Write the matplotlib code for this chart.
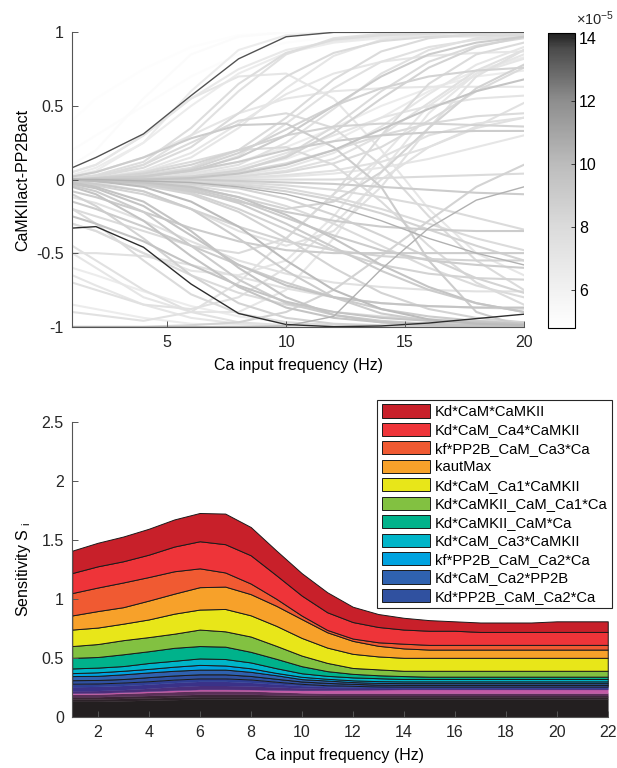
import numpy as np
import matplotlib
matplotlib.use('Agg')
import matplotlib.pyplot as plt
from matplotlib.colors import LinearSegmentedColormap, Normalize
from matplotlib.ticker import FormatStrFormatter
import matplotlib.cm as cm

plt.rcParams['font.family'] = ['Liberation Sans', 'DejaVu Sans']
plt.rcParams['font.size'] = 11.5
plt.rcParams['axes.unicode_minus'] = False
plt.rcParams['mathtext.default'] = 'regular'

# ---- top panel: CaMKIIact-PP2Bact vs frequency, shaded by a parameter value (x1e-5)
freq_top = [1, 2, 4, 6, 8, 10, 12, 14, 16, 18, 20]

rising_curves = [
    [0.40, 0.55, 0.75, 0.90, 0.98, 1, 1, 1, 1, 1, 1],
    [0.10, 0.20, 0.55, 0.85, 0.97, 1, 1, 1, 1, 1, 1],
    [0.02, 0.06, 0.25, 0.60, 0.88, 0.98, 1, 1, 1, 1, 1],
    [0.08, 0.15, 0.31, 0.57, 0.82, 0.97, 1, 1, 1, 1, 1],
    [0, 0.02, 0.10, 0.30, 0.60, 0.85, 0.96, 0.99, 1, 1, 1],
    [0, 0.01, 0.05, 0.15, 0.35, 0.62, 0.84, 0.95, 0.99, 1, 1],
    [0, 0, 0.03, 0.08, 0.20, 0.42, 0.68, 0.87, 0.96, 0.99, 1],
    [0, 0, 0.01, 0.04, 0.10, 0.25, 0.48, 0.72, 0.88, 0.96, 0.99],
    [0, 0, 0.01, 0.02, 0.06, 0.15, 0.32, 0.55, 0.76, 0.90, 0.97],
    [0, 0, 0, 0.01, 0.03, 0.08, 0.18, 0.36, 0.58, 0.78, 0.90],
    [0, 0, 0, 0.01, 0.02, 0.05, 0.11, 0.22, 0.40, 0.60, 0.76],
    [0, 0, 0, 0, 0.01, 0.03, 0.06, 0.12, 0.22, 0.36, 0.52],
    [0.02, 0.05, 0.15, 0.30, 0.45, 0.55, 0.60, 0.62, 0.63, 0.63, 0.63],
    [0, 0.01, 0.04, 0.10, 0.20, 0.30, 0.36, 0.38, 0.38, 0.37, 0.36],
    [0, 0, 0.02, 0.05, 0.12, 0.22, 0.35, 0.50, 0.62, 0.70, 0.74],
    [0.05, 0.10, 0.30, 0.55, 0.75, 0.88, 0.94, 0.97, 0.98, 0.98, 0.98],
    [0, 0.02, 0.08, 0.22, 0.45, 0.70, 0.86, 0.94, 0.97, 0.98, 0.98],
    [0, 0, 0.01, 0.03, 0.08, 0.18, 0.30, 0.42, 0.50, 0.55, 0.57],
    [0, 0, 0, 0, 0.01, 0.02, 0.04, 0.08, 0.14, 0.22, 0.30],
    [0, 0, 0.02, 0.06, 0.15, 0.30, 0.50, 0.70, 0.85, 0.93, 0.97],
    [0.01, 0.03, 0.12, 0.35, 0.65, 0.86, 0.95, 0.98, 0.99, 1, 1],
    [0, 0, 0.01, 0.03, 0.07, 0.14, 0.26, 0.42, 0.60, 0.74, 0.83],
    [0.20, 0.30, 0.50, 0.70, 0.85, 0.93, 0.97, 0.99, 1, 1, 1],
    [0, 0.01, 0.02, 0.06, 0.12, 0.20, 0.26, 0.30, 0.32, 0.33, 0.33],
    [0, 0, 0, 0.01, 0.04, 0.10, 0.20, 0.34, 0.48, 0.60, 0.68],
    [0, 0, 0.01, 0.05, 0.16, 0.38, 0.62, 0.80, 0.90, 0.95, 0.97],
    [0, 0, 0, 0.02, 0.06, 0.16, 0.36, 0.60, 0.80, 0.91, 0.96],
    [0, 0.01, 0.06, 0.18, 0.38, 0.58, 0.72, 0.80, 0.84, 0.86, 0.87],
    [0, 0, 0.02, 0.07, 0.18, 0.34, 0.50, 0.62, 0.70, 0.74, 0.76],
    [0, 0, 0, 0.01, 0.02, 0.06, 0.14, 0.30, 0.52, 0.74, 0.88],
    [0.03, 0.08, 0.25, 0.50, 0.72, 0.86, 0.93, 0.96, 0.97, 0.97, 0.97],
    [0, 0, 0.01, 0.02, 0.05, 0.11, 0.20, 0.30, 0.38, 0.43, 0.45],
]
rising_shade = [5.0, 5.2, 6.5, 13.5, 7.5, 7.0, 8.0, 7.5, 8.5, 7.0, 8.0, 7.5, 7.0,
                8.5, 6.5, 6.8, 8.0, 7.2, 7.0, 9.0, 7.8, 6.6, 5.1, 9.0, 9.5,
                7.5, 8.0, 7.0, 8.5, 7.5, 6.5, 8.0]

falling_curves = [
    [-0.02, -0.05, -0.15, -0.35, -0.60, -0.80, -0.92, -0.97, -0.99, -1, -1],
    [-0.01, -0.03, -0.08, -0.20, -0.40, -0.62, -0.80, -0.91, -0.96, -0.98, -0.99],
    [0, -0.01, -0.04, -0.10, -0.22, -0.40, -0.60, -0.77, -0.88, -0.94, -0.97],
    [0, -0.01, -0.02, -0.05, -0.12, -0.24, -0.40, -0.58, -0.73, -0.84, -0.90],
    [0, 0, -0.01, -0.03, -0.06, -0.13, -0.24, -0.38, -0.53, -0.67, -0.77],
    [0, 0, -0.01, -0.02, -0.04, -0.08, -0.14, -0.23, -0.34, -0.45, -0.55],
    [-0.05, -0.10, -0.28, -0.52, -0.73, -0.87, -0.94, -0.97, -0.98, -0.99, -0.99],
    [-0.10, -0.18, -0.40, -0.65, -0.84, -0.94, -0.98, -0.99, -1, -1, -1],
    [-0.20, -0.30, -0.55, -0.78, -0.91, -0.97, -0.99, -1, -1, -1, -1],
    [-0.45, -0.55, -0.75, -0.90, -0.97, -0.99, -1, -1, -1, -1, -1],
    [-0.65, -0.72, -0.85, -0.94, -0.98, -1, -1, -1, -1, -1, -1],
    [-0.85, -0.88, -0.94, -0.98, -0.99, -1, -1, -1, -1, -1, -1],
    [0, -0.01, -0.03, -0.08, -0.15, -0.22, -0.28, -0.32, -0.34, -0.35, -0.35],
    [-0.02, -0.04, -0.10, -0.20, -0.32, -0.42, -0.48, -0.52, -0.54, -0.55, -0.55],
    [0, 0, -0.02, -0.06, -0.14, -0.26, -0.38, -0.48, -0.55, -0.58, -0.60],
    [-0.30, -0.35, -0.50, -0.65, -0.77, -0.85, -0.90, -0.93, -0.95, -0.96, -0.97],
    [-0.50, -0.50, -0.52, -0.58, -0.66, -0.74, -0.80, -0.84, -0.86, -0.87, -0.88],
    [-0.33, -0.32, -0.46, -0.71, -0.91, -0.985, -1.0, -0.995, -0.975, -0.945, -0.915],
    [0, -0.01, -0.05, -0.15, -0.32, -0.55, -0.75, -0.88, -0.95, -0.98, -0.99],
    [-0.03, -0.06, -0.18, -0.38, -0.58, -0.72, -0.80, -0.84, -0.86, -0.87, -0.87],
    [-0.15, -0.20, -0.32, -0.45, -0.58, -0.70, -0.80, -0.88, -0.93, -0.96, -0.98],
    [-0.25, -0.30, -0.42, -0.58, -0.72, -0.83, -0.90, -0.94, -0.96, -0.97, -0.98],
    [0, 0, -0.01, -0.02, -0.05, -0.10, -0.18, -0.28, -0.40, -0.50, -0.58],
    [-0.08, -0.12, -0.22, -0.33, -0.42, -0.48, -0.50, -0.50, -0.50, -0.50, -0.50],
    [0, 0, 0, -0.01, -0.02, -0.04, -0.07, -0.12, -0.18, -0.26, -0.34],
    [0, -0.01, -0.03, -0.09, -0.20, -0.34, -0.48, -0.58, -0.64, -0.67, -0.68],
    [-0.04, -0.08, -0.22, -0.45, -0.68, -0.84, -0.92, -0.96, -0.98, -0.99, -0.99],
    [0, 0, -0.01, -0.04, -0.09, -0.18, -0.30, -0.45, -0.60, -0.72, -0.80],
    [-0.12, -0.16, -0.28, -0.42, -0.55, -0.64, -0.70, -0.73, -0.75, -0.76, -0.76],
    [0, 0, 0, -0.01, -0.03, -0.06, -0.12, -0.20, -0.30, -0.40, -0.48],
    [-0.60, -0.65, -0.76, -0.86, -0.93, -0.97, -0.99, -1, -1, -1, -1],
    [0, -0.01, -0.02, -0.07, -0.16, -0.30, -0.46, -0.62, -0.75, -0.84, -0.90],
]
falling_shade = [9.5, 9.0, 8.5, 9.5, 8.5, 8.5, 9.5, 8.5, 8.0, 7.5, 7.0, 6.5, 9.0,
                 8.5, 9.0, 8.0, 7.5, 14.0, 10.0, 9.5, 9.0, 9.5, 10.5, 9.0, 8.0,
                 8.5, 9.0, 8.0, 7.5, 8.0, 6.5, 9.0]

crossing_curves = [
    [0.02, 0.05, 0.15, 0.28, 0.37, 0.38, 0.22, -0.05, -0.55, -0.90, -1.0],
    [-1, -1, -1, -1, -1, -0.995, -0.93, -0.61, -0.33, -0.14, -0.05],
    [-1, -1, -1, -0.99, -0.97, -0.90, -0.75, -0.52, -0.28, -0.05, 0.10],
    [-0.20, -0.25, -0.35, -0.45, -0.50, -0.40, -0.10, 0.30, 0.65, 0.85, 0.93],
    [0, -0.02, -0.08, -0.20, -0.35, -0.45, -0.35, -0.05, 0.35, 0.70, 0.88],
    [-0.50, -0.60, -0.80, -0.90, -0.90, -0.75, -0.40, 0.05, 0.45, 0.72, 0.85],
    [0, 0, -0.02, -0.05, -0.12, -0.20, -0.15, 0.05, 0.35, 0.62, 0.78],
    [0.05, 0.10, 0.30, 0.55, 0.70, 0.72, 0.55, 0.20, -0.20, -0.50, -0.65],
    [0, 0.02, 0.10, 0.25, 0.40, 0.45, 0.35, 0.10, -0.25, -0.55, -0.75],
    [0, 0, 0, 0, 0, 0, 0, 0.01, 0.02, 0.03, 0.04],
    [0, 0, 0, 0, -0.01, -0.02, -0.03, -0.05, -0.07, -0.09, -0.10],
    [-0.90, -0.92, -0.96, -0.90, -0.70, -0.40, -0.10, 0.15, 0.30, 0.38, 0.42],
    [-0.30, -0.35, -0.50, -0.62, -0.65, -0.55, -0.25, 0.15, 0.50, 0.72, 0.82],
    [0, 0.01, 0.05, 0.12, 0.20, 0.22, 0.10, -0.15, -0.45, -0.70, -0.85],
    [-0.70, -0.75, -0.85, -0.88, -0.80, -0.60, -0.30, 0.0, 0.22, 0.35, 0.42],
]
crossing_shade = [9.0, 10.5, 8.5, 8.0, 7.5, 7.0, 8.5, 7.0, 8.0, 8.0, 9.0, 7.5,
                  7.0, 8.0, 7.5]

cbar_ticks = [6, 8, 10, 12, 14]

# ---- bottom panel: stacked sensitivities
freq_bot = list(range(1, 23))

param_names = ['Kd*CaM*CaMKII', 'Kd*CaM_Ca4*CaMKII', 'kf*PP2B_CaM_Ca3*Ca', 'kautMax',
               'Kd*CaM_Ca1*CaMKII', 'Kd*CaMKII_CaM_Ca1*Ca', 'Kd*CaMKII_CaM*Ca',
               'Kd*CaM_Ca3*CaMKII', 'kf*PP2B_CaM_Ca2*Ca', 'Kd*CaM_Ca2*PP2B',
               'Kd*PP2B_CaM_Ca2*Ca']
param_colors = ['#c8202a', '#ee3439', '#f05a32', '#f7a12a', '#e8e619', '#82c141',
                '#00b28b', '#00b5c9', '#00a3e0', '#2f62b0', '#3051a0']

s_CaM_CaMKII = [0.19, 0.20, 0.21, 0.22, 0.23, 0.24, 0.26, 0.24, 0.21, 0.19, 0.17,
                0.13, 0.11, 0.10, 0.09, 0.08, 0.08, 0.08, 0.08, 0.09, 0.09, 0.09]
s_CaM_Ca4 = [0.17, 0.18, 0.18, 0.19, 0.21, 0.23, 0.24, 0.24, 0.20, 0.17, 0.15,
             0.14, 0.13, 0.12, 0.12, 0.12, 0.11, 0.11, 0.11, 0.11, 0.11, 0.11]
s_PP2B_Ca3 = [0.19, 0.20, 0.21, 0.20, 0.19, 0.16, 0.12, 0.09, 0.06, 0.03, 0.02,
              0.02, 0.03, 0.04, 0.04, 0.04, 0.04, 0.04, 0.04, 0.04, 0.04, 0.04]
s_kautMax = [0.12, 0.14, 0.14, 0.16, 0.17, 0.19, 0.19, 0.18, 0.17, 0.16, 0.13,
             0.11, 0.09, 0.08, 0.07, 0.07, 0.07, 0.07, 0.07, 0.07, 0.07, 0.07]
s_CaM_Ca1 = [0.14, 0.14, 0.14, 0.15, 0.17, 0.17, 0.19, 0.18, 0.17, 0.15, 0.13,
             0.12, 0.11, 0.11, 0.11, 0.11, 0.11, 0.11, 0.11, 0.11, 0.11, 0.11]
s_CaMKII_Ca1 = [0.10, 0.11, 0.12, 0.12, 0.12, 0.14, 0.13, 0.13, 0.11, 0.09, 0.07,
                0.05, 0.05, 0.045, 0.05, 0.05, 0.05, 0.05, 0.05, 0.05, 0.05, 0.05]
s_CaMKII_CaM = [0.09, 0.09, 0.10, 0.10, 0.11, 0.105, 0.105, 0.09, 0.08, 0.06, 0.04,
                0.03, 0.025, 0.025, 0.02, 0.02, 0.02, 0.02, 0.02, 0.02, 0.02, 0.02]
s_CaM_Ca3 = [0.04, 0.04, 0.04, 0.05, 0.05, 0.055, 0.055, 0.05, 0.04, 0.03, 0.025,
             0.025, 0.025, 0.02, 0.02, 0.02, 0.02, 0.02, 0.02, 0.02, 0.02, 0.02]
s_PP2B_Ca2 = [0.025, 0.03, 0.03, 0.03, 0.035, 0.04, 0.035, 0.03, 0.02, 0.02, 0.015,
              0.015, 0.015, 0.015, 0.015, 0.015, 0.015, 0.015, 0.015, 0.015, 0.015, 0.015]
s_CaM_Ca2_PP2B = [0.035, 0.035, 0.04, 0.04, 0.04, 0.04, 0.04, 0.035, 0.03, 0.02, 0.02,
                  0.015, 0.015, 0.015, 0.015, 0.015, 0.015, 0.015, 0.015, 0.015, 0.015, 0.015]
s_PP2B_CaM_Ca2 = [0.03, 0.03, 0.03, 0.035, 0.035, 0.035, 0.035, 0.03, 0.025, 0.02, 0.02,
                  0.017, 0.015, 0.015, 0.015, 0.015, 0.015, 0.015, 0.015, 0.015, 0.015, 0.015]

# remaining (unlabelled) parameters, from the bottom up
rest_colors = ['#231f20', '#2c2228', '#3a2535', '#5a2f58', '#c25ba6', '#4a2e7a',
               '#3a3288', '#2f3f95']
rest_base = [0.13, 0.13, 0.135, 0.14, 0.145, 0.15, 0.15, 0.15, 0.15, 0.15, 0.15,
             0.15, 0.15, 0.15, 0.15, 0.15, 0.15, 0.15, 0.15, 0.15, 0.15, 0.15]
rest_dark1 = [0.02, 0.02, 0.02, 0.02, 0.02, 0.02, 0.02, 0.02, 0.018, 0.016, 0.015,
              0.015, 0.015, 0.015, 0.015, 0.015, 0.015, 0.015, 0.015, 0.015, 0.015, 0.015]
rest_dark2 = [0.02, 0.02, 0.02, 0.02, 0.02, 0.02, 0.02, 0.02, 0.018, 0.016, 0.015,
              0.015, 0.015, 0.015, 0.015, 0.015, 0.015, 0.015, 0.015, 0.015, 0.015, 0.015]
rest_dark3 = [0.02, 0.022, 0.024, 0.026, 0.028, 0.03, 0.03, 0.028, 0.025, 0.022, 0.02,
              0.02, 0.02, 0.02, 0.02, 0.02, 0.02, 0.02, 0.02, 0.02, 0.02, 0.02]
rest_pink = [0.01, 0.01, 0.01, 0.011, 0.012, 0.012, 0.012, 0.013, 0.016, 0.02, 0.025,
             0.028, 0.03, 0.032, 0.032, 0.032, 0.032, 0.032, 0.032, 0.032, 0.032, 0.032]
rest_purple = [0.02, 0.02, 0.021, 0.024, 0.03, 0.033, 0.033, 0.03, 0.025, 0.02, 0.015,
               0.012, 0.01, 0.008, 0.008, 0.008, 0.008, 0.008, 0.008, 0.008, 0.008, 0.008]
rest_indigo2 = [0.035, 0.035, 0.035, 0.035, 0.035, 0.035, 0.035, 0.03, 0.025, 0.02, 0.015,
                0.01, 0.007, 0.005, 0.005, 0.005, 0.005, 0.005, 0.005, 0.005, 0.005, 0.005]
rest_indigo1 = [0.025, 0.025, 0.025, 0.025, 0.025, 0.025, 0.025, 0.025, 0.02, 0.015, 0.012,
                0.012, 0.01, 0.01, 0.01, 0.01, 0.01, 0.01, 0.01, 0.01, 0.01, 0.01]

# ---------------------------------------------------------------------------
fig = plt.figure(figsize=(6.17, 7.68), dpi=100)

gray_map = LinearSegmentedColormap.from_list(
    'grey_r', [(0.0, '#ffffff'), (0.35, '#dadada'), (0.55, '#bdbdbd'),
               (0.77, '#8e8e8e'), (0.95, '#4a4a4a'), (1.0, '#202020')])
norm = Normalize(4.8e-5, 14.16e-5)

ax1 = fig.add_axes([0.117, 0.5746, 0.732, 0.3833])
curves = rising_curves + falling_curves + crossing_curves
shades = rising_shade + falling_shade + crossing_shade
for k in np.argsort(shades, kind='stable'):
    dark = shades[k] > 10
    ax1.plot(freq_top, curves[k], color=gray_map(norm(shades[k] * 1e-5)),
             lw=1.0 if dark else 1.5, solid_joinstyle='round')
ax1.set_xlim(1, 20)
ax1.set_ylim(-1, 1)
ax1.set_xticks([5, 10, 15, 20])
ax1.set_yticks([-1, -0.5, 0, 0.5, 1])
ax1.yaxis.set_major_formatter(FormatStrFormatter('%g'))
ax1.set_xlabel('Ca input frequency (Hz)', labelpad=6)
ax1.set_ylabel('CaMKIIact-PP2Bact', labelpad=4)

cax = fig.add_axes([0.888, 0.573, 0.0438, 0.384])
sm = cm.ScalarMappable(norm=norm, cmap=gray_map)
cb = fig.colorbar(sm, cax=cax)
cb.set_ticks([t * 1e-5 for t in cbar_ticks])
cb.set_ticklabels([str(t) for t in cbar_ticks])
cb.outline.set_linewidth(0.8)
cax.tick_params(direction='in', length=3, width=0.6, color='#262626', pad=3)
fig.text(0.934, 0.967, r'$\times$10$^{-5}$', fontsize=10.5, ha='left', va='baseline',
         color='#262626')

ax2 = fig.add_axes([0.117, 0.0668, 0.868, 0.3833])
named = [s_CaM_CaMKII, s_CaM_Ca4, s_PP2B_Ca3, s_kautMax, s_CaM_Ca1, s_CaMKII_Ca1,
         s_CaMKII_CaM, s_CaM_Ca3, s_PP2B_Ca2, s_CaM_Ca2_PP2B, s_PP2B_CaM_Ca2]
rest = [rest_base, rest_dark1, rest_dark2, rest_dark3, rest_pink, rest_purple,
        rest_indigo2, rest_indigo1]
layers = rest + named[::-1]
colors = rest_colors + param_colors[::-1]
labels = ['_nolegend_'] * len(rest) + param_names[::-1]
polys = ax2.stackplot(freq_bot, *layers, colors=colors, labels=labels)
for i, p in enumerate(polys):
    if i < len(rest):
        p.set_edgecolor(colors[i])
        p.set_linewidth(0.3)
    else:
        p.set_edgecolor('#1a1a1a')
        p.set_linewidth(0.7)
ax2.set_xlim(1, 22)
ax2.set_ylim(0, 2.5)
ax2.set_xticks(range(2, 23, 2))
ax2.set_yticks([0, 0.5, 1, 1.5, 2, 2.5])
ax2.yaxis.set_major_formatter(FormatStrFormatter('%g'))
ax2.set_xlabel('Ca input frequency (Hz)', labelpad=6)
ax2.set_ylabel(r'Sensitivity S $_{i}$', labelpad=6)

h, l = ax2.get_legend_handles_labels()
leg = ax2.legend(h[::-1], l[::-1], loc='upper right', bbox_to_anchor=(1.008, 1.076),
                 fontsize=10.6, frameon=True, fancybox=False, framealpha=1,
                 edgecolor='#262626', borderaxespad=0, borderpad=0.3,
                 handlelength=3.3, handleheight=1.0, handletextpad=0.3,
                 labelspacing=0.26)
leg.get_frame().set_linewidth(0.8)

for ax in (ax1, ax2):
    for side in ('top', 'right'):
        ax.spines[side].set_visible(False)
    for side in ('left', 'bottom'):
        ax.spines[side].set_color('#555555')
        ax.spines[side].set_linewidth(0.8)
    ax.tick_params(direction='in', length=4, width=0.7, color='#555555',
                   labelcolor='#262626', pad=6)
    ax.set_axisbelow(False)

fig.savefig('out.png', dpi=100)
